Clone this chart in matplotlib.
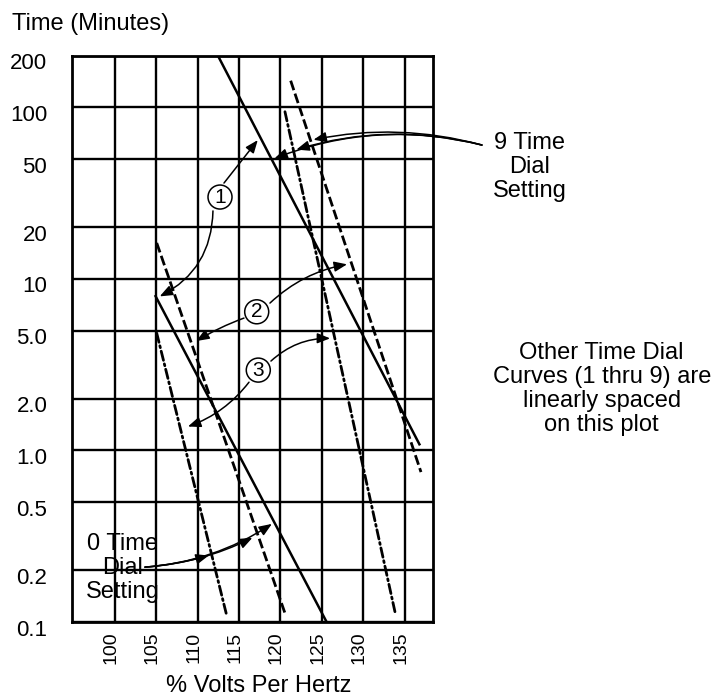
import numpy as np
import matplotlib
matplotlib.use('Agg')
import matplotlib.pyplot as plt
import matplotlib.transforms as mtransforms
from matplotlib.ticker import NullLocator

plt.rcParams['font.family'] = ['Liberation Sans', 'DejaVu Sans']

# ---------------- data ----------------
x_ticks = [100, 105, 110, 115, 120, 125, 130, 135]
x_tick_labels = ['100', '105', '110', '115', '120', '125', '130', '135']
y_ticks = [0.1, 0.2, 0.5, 1.0, 2.0, 5.0, 10, 20, 50, 100, 200]
y_tick_labels = ['0.1', '0.2', '0.5', '1.0', '2.0', '5.0', '10', '20', '50', '100', '200']

# curve end points (% V/Hz, minutes)
solid_0_x = [104.85, 125.57]
solid_0_y = [8.05, 0.1]
solid_9_x = [112.45, 136.84]
solid_9_y = [200, 1.07]
dashed_0_x = [105.06, 120.54]
dashed_0_y = [16.2, 0.1126]
dashed_9_x = [121.23, 136.96]
dashed_9_y = [143, 0.748]
dashdot_0_x = [105.06, 113.5]
dashdot_0_y = [4.83, 0.1096]
dashdot_9_x = [120.54, 133.82]
dashdot_9_y = [94.3, 0.1146]


def x_on(xs, ys, y):
    ly = np.log10(np.asarray(ys, float))
    return float(np.interp(np.log10(y), ly[::-1], np.asarray(xs, float)[::-1]))


# ---------------- figure ----------------
W, H = 715, 698
fig = plt.figure(figsize=(W / 100, H / 100), dpi=100)
ax = fig.add_axes([72.3 / W, 1 - 622 / H, (432.5 - 72.3) / W, (622 - 55.7) / H])
ax.set_yscale('log')
ax.set_xlim(94.87, 138.35)
ax.set_ylim(0.1, 200)
ax.set_xticks(x_ticks, labels=x_tick_labels)
ax.set_yticks(y_ticks, labels=y_tick_labels)
ax.yaxis.set_minor_locator(NullLocator())
ax.xaxis.set_minor_locator(NullLocator())
ax.grid(True, which='major', color='black', lw=1.7)
ax.set_axisbelow(True)
ax.tick_params(length=0)
ax.tick_params(axis='y', labelsize=16, pad=18)
ax.tick_params(axis='x', labelsize=14, pad=7, labelrotation=90)
for sp in ax.spines.values():
    sp.set_linewidth(2.0)
    sp.set_color('black')

off_y = mtransforms.ScaledTranslation(0, -0.056, fig.dpi_scale_trans)
for lab in ax.get_yticklabels():
    lab.set_transform(lab.get_transform() + off_y)
off_x = mtransforms.ScaledTranslation(-0.04, 0, fig.dpi_scale_trans)
for lab in ax.get_xticklabels():
    lab.set_transform(lab.get_transform() + off_x)

# curves
solid_kw = dict(color='black', lw=1.8, solid_capstyle='butt', zorder=3)
dash_kw = dict(color='black', lw=2.0, ls=(0, (3.6, 1.3)), dash_capstyle='butt', zorder=3)
dd_kw = dict(color='black', lw=2.0, ls=(0, (3.4, 1.3, 0.7, 1.3)), dash_capstyle='round', zorder=3)
ax.plot(solid_0_x, solid_0_y, **solid_kw)
ax.plot(solid_9_x, solid_9_y, **solid_kw)
ax.plot(dashed_0_x, dashed_0_y, **dash_kw)
ax.plot(dashed_9_x, dashed_9_y, **dash_kw)
ax.plot(dashdot_0_x, dashdot_0_y, **dd_kw)
ax.plot(dashdot_9_x, dashdot_9_y, **dd_kw)


def arrow(tail, tip, rad=0.0):
    ax.annotate('', xy=tip, xytext=tail, xycoords='data', textcoords='data',
                annotation_clip=False, zorder=5,
                arrowprops=dict(arrowstyle='-|>,head_length=0.55,head_width=0.22',
                                color='black', lw=1.1, shrinkA=0, shrinkB=1,
                                mutation_scale=14,
                                connectionstyle=f'arc3,rad={rad}'))


def circled(x, y, s):
    ax.text(x, y, s, ha='center', va='center', fontsize=15, zorder=6,
            bbox=dict(boxstyle='circle,pad=0.12', fc='white', ec='black', lw=1.1))


# circled labels
circled(112.70, 30.0, '1')
circled(117.13, 6.43, '2')
circled(117.32, 2.94, '3')

# (1) arrows
arrow((113.18, 36.2), (x_on(solid_9_x, solid_9_y, 65.4) - 0.3, 65.4), 0.0)
arrow((111.85, 24.9), (x_on(solid_0_x, solid_0_y, 7.84) + 0.3, 7.84), -0.3)
# (2) arrows
arrow((118.73, 7.23), (x_on(dashed_9_x, dashed_9_y, 12.2) - 0.4, 12.2), -0.15)
arrow((115.59, 5.91), (x_on(dashed_0_x, dashed_0_y, 4.3) + 0.5, 4.3), 0.05)
# (3) arrows
arrow((118.85, 3.32), (x_on(dashdot_9_x, dashdot_9_y, 4.5) - 0.4, 4.5), -0.2)
arrow((116.20, 2.50), (x_on(dashdot_0_x, dashdot_0_y, 1.37) + 0.8, 1.37), -0.15)

# 9 Time Dial Setting arrows
tail9 = (144.32, 60.3)
arrow(tail9, (x_on(dashed_9_x, dashed_9_y, 64.5) + 0.2, 64.5), 0.12)
arrow(tail9, (x_on(dashdot_9_x, dashdot_9_y, 56.4) + 0.2, 56.4), 0.14)
arrow(tail9, (x_on(solid_9_x, solid_9_y, 50.0) + 0.2, 50.0), 0.16)

# 0 Time Dial Setting arrows
tail0 = (103.64, 0.2088)
arrow(tail0, (x_on(dashdot_0_x, dashdot_0_y, 0.2453) - 0.2, 0.2453), 0.05)
arrow(tail0, (x_on(dashed_0_x, dashed_0_y, 0.3124) - 0.6, 0.3124), 0.1)
arrow(tail0, (x_on(solid_0_x, solid_0_y, 0.377) - 0.2, 0.377), 0.13)

ax.text(100.98, 0.207, '0 Time\nDial\nSetting', ha='center', va='center',
        fontsize=17, linespacing=1.13, zorder=4)

# outer texts
fig.text(12 / W, 1 - 30 / H, 'Time (Minutes)', ha='left', va='baseline', fontsize=17)
fig.text(259 / W, 1 - 692 / H, '% Volts Per Hertz', ha='center', va='baseline', fontsize=17)
fig.text(529.5 / W, 1 - 167 / H, '9 Time\nDial\nSetting', ha='center', va='center',
         fontsize=17, linespacing=1.13)
fig.text(601.7 / W, 1 - 389 / H, 'Other Time Dial\nCurves (1 thru 9) are\nlinearly spaced\non this plot',
         ha='center', va='center', fontsize=17, linespacing=1.1)

fig.savefig('out.png', dpi=100)
